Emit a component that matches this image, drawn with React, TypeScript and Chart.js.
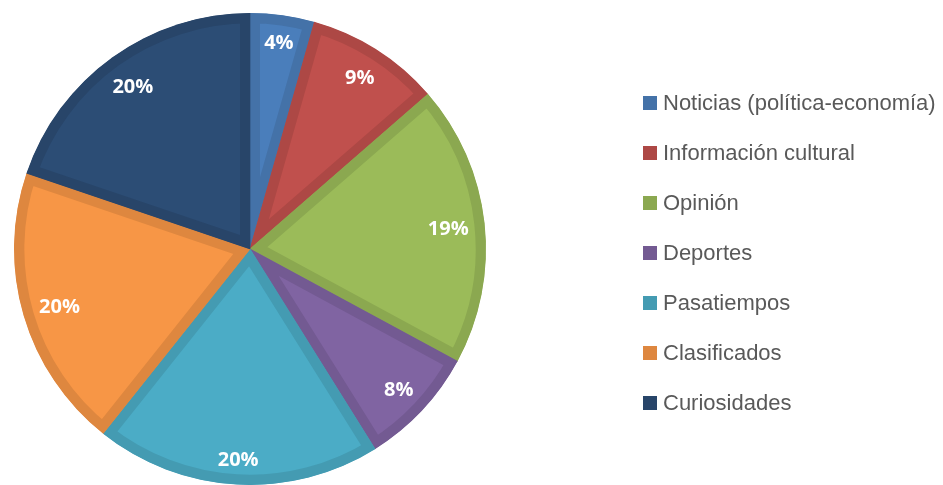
import React, { useEffect, useRef } from "react";
import { Chart, registerables } from "chart.js";

Chart.register(...registerables);

const categories = [
  "Noticias (política-economía)",
  "Información cultural",
  "Opinión",
  "Deportes",
  "Pasatiempos",
  "Clasificados",
  "Curiosidades",
];
const values = [4.4, 9.2, 19.3, 8.2, 19.6, 19.5, 19.8];

const fillColors = ["#4a7ebb", "#c0504d", "#9bbb59", "#8064a2", "#4bacc6", "#f79646", "#2c4d75"];
const borderColors = ["#4472a8", "#ad4845", "#8ba850", "#735a92", "#449bb2", "#de873f", "#284569"];

const total = values.reduce((a, b) => a + b, 0);
const percentLabels = values.map((v) => Math.round((v / total) * 100) + "%");

const labelPlugin = {
  id: "insideEndLabels",
  afterDatasetsDraw(chart: any) {
    const ctx = chart.ctx;
    const meta = chart.getDatasetMeta(0);
    ctx.save();
    ctx.font = 'bold 20px "Open Sans"';
    ctx.fillStyle = "#ffffff";
    ctx.textAlign = "center";
    ctx.textBaseline = "middle";
    const margin = 15;
    const hh = 9;
    meta.data.forEach((arc: any, i: number) => {
      const { x, y, startAngle, endAngle, outerRadius } = arc.getProps(
        ["x", "y", "startAngle", "endAngle", "outerRadius"],
        true
      );
      const mid = (startAngle + endAngle) / 2;
      const txt = percentLabels[i];
      const hw = ctx.measureText(txt).width / 2;
      const limit = outerRadius - margin;
      const cx = Math.cos(mid);
      const cy = Math.sin(mid);
      let r = outerRadius;
      for (; r > 0; r -= 0.5) {
        const px = r * cx;
        const py = r * cy;
        let maxD = 0;
        for (const sx of [-1, 1]) {
          for (const sy of [-1, 1]) {
            const d = Math.hypot(px + sx * hw, py + sy * hh);
            if (d > maxD) maxD = d;
          }
        }
        if (maxD <= limit) break;
      }
      ctx.fillText(txt, x + r * cx, y + r * cy + 2);
    });
    ctx.restore();
  },
};

export default function App() {
  const ref = useRef<HTMLCanvasElement | null>(null);
  useEffect(() => {
    if (!ref.current) return;
    const chart = new Chart(ref.current, {
      type: "pie",
      data: {
        labels: categories,
        datasets: [
          {
            data: values,
            backgroundColor: fillColors,
            borderColor: borderColors,
            borderWidth: 10,
            borderAlign: "inner",
          } as any,
        ],
      },
      options: {
        animation: false,
        responsive: false,
        radius: 236,
        layout: { padding: { left: 14, right: 457, top: 13, bottom: 0 } },
        plugins: {
          legend: { display: false },
          tooltip: { enabled: false },
        },
        events: [],
      } as any,
      plugins: [labelPlugin],
    });
    return () => chart.destroy();
  }, []);

  return (
    <div style={{ position: "fixed", left: 0, top: 0, width: 943, height: 485, background: "#fff" }}>
      <canvas ref={ref} width={943} height={485} style={{ position: "absolute", left: 0, top: 0 }} />
      {categories.map((c, i) => (
        <div
          key={c}
          style={{
            position: "absolute",
            left: 643,
            top: 103 + i * 50 - 11,
            height: 22,
            display: "flex",
            alignItems: "center",
            whiteSpace: "nowrap",
            fontFamily: '"Liberation Sans", sans-serif',
            fontSize: 22,
            lineHeight: "22px",
            color: "#595959",
          }}
        >
          <span
            style={{
              display: "inline-block",
              width: 14,
              height: 14,
              background: borderColors[i],
              marginRight: 6,
            }}
          />
          <span>{c}</span>
        </div>
      ))}
    </div>
  );
}
